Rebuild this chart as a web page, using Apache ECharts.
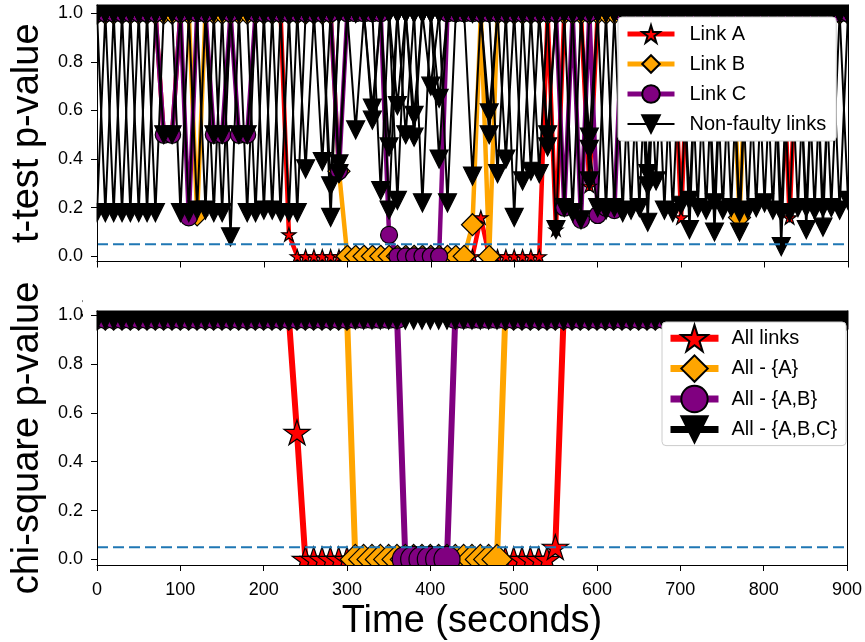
<!DOCTYPE html>
<html>
<head>
<meta charset="utf-8">
<title>p-values over time</title>
<script src="https://cdn.jsdelivr.net/npm/echarts@6/dist/echarts.min.js"></script>
<style>
  html, body { margin: 0; padding: 0; background: #fff; }
  #main { width: 865px; height: 642px; }
</style>
</head>
<body>
<div id="main"></div>
<script>
var times = [0,10,20,30,40,50,60,70,80,90,
  100,110,120,130,140,150,160,170,180,190,
  200,210,220,230,240,250,260,270,280,290,
  300,310,320,330,340,350,360,370,380,390,
  400,410,420,430,440,450,460,470,480,490,
  500,510,520,530,540,550,560,570,580,590,
  600,610,620,630,640,650,660,670,680,690,
  700,710,720,730,740,750,760,770,780,790,
  800,810,820,830,840,850,860,870,880,890,
  900];

// t-test p-values, faulty links
var linkA = [1,1,1,1,1,1,1,1,0.5,0.5,
  1,1,1,1,1,1,1,1,1,1,
  1,1,1,0.09,0,0,0,0,0,0,
  0,0,0,0,0,0,0,0,0,0,
  0,0,0,0,0,0,0.16,0,0,0,
  0,0,0,0,1,0.11,1,1,1,0.29,
  1,1,1,1,1,1,1,1,1,1,
  0.16,1,1,1,1,1,1,1,1,1,
  1,1,1,0.16,1,1,1,1,1,1,
  1];
var linkB = [1,1,1,1,1,1,1,1,1,1,
  1,1,0.17,1,1,1,1,1,1,1,
  1,1,1,1,1,1,1,1,1,0.35,
  0,0,0,0,0,0,0,0,0,0,
  0,0,0,0,0,0.13,1,0,1,1,
  1,1,1,1,1,1,1,1,1,1,
  1,1,1,1,1,1,1,1,1,1,
  1,1,1,1,1,1,1,0.16,1,1,
  1,1,1,1,1,1,1,1,1,1,
  1];
var linkC = [1,1,1,1,1,1,1,1,0.5,0.5,
  1,0.16,1,1,0.5,0.5,1,0.5,0.5,1,
  1,1,1,1,1,1,1,1,1,0.35,
  1,1,1,1,1,0.088,0,0,0,0,
  0,0,1,1,1,1,1,1,1,1,
  1,1,1,1,1,1,0.2,1,0.15,1,
  0.17,0.2,0.19,1,1,1,1,1,1,1,
  1,1,1,1,1,1,1,1,1,1,
  1,1,1,1,1,1,1,1,1,1,
  1];

// t-test p-values, non-faulty links
var nonFaulty1 = [0.18,1,0.18,1,0.18,1,0.18,1,1,1,
  0.18,1,0.19,1,0.18,1,1,1,0.18,1,
  0.19,1,0.18,1,0.18,1,1,1,0.16,1,
  1,1,1,0.61,1,1,0.62,1,1,0.22,
  1,1,1,1,1,0.33,1,1,1,1,
  0.16,1,1,1,0.45,1,1,1,1,0.49,
  1,0.19,1,0.18,1,0.2,1,0.31,1,0.18,
  1,1,0.2,1,0.22,1,1,0.18,1,0.2,
  1,1,0.18,1,0.2,1,1,0.2,1,0.19,
  1];
var nonFaulty2 = [1,0.18,1,0.18,1,0.18,1,0.18,1,1,
  1,0.18,1,0.19,1,0.18,1,1,1,0.18,
  1,0.19,1,0.18,1,1,1,1,1,0.34,
  1,1,1,0.56,1,1,0.23,1,1,1,
  0.7,1,1,1,1,1,1,0.59,1,1,
  1,0.31,1,1,1,0.11,1,1,1,0.44,
  0.2,1,0.2,1,0.19,1,1,1,0.19,1,
  0.21,1,1,0.19,1,1,0.2,1,0.19,1,
  1,0.19,1,0.18,1,1,0.19,1,0.2,1,
  1];
var nonFaulty3 = [1,1,1,1,1,1,1,1,0.5,0.5,
  1,1,1,1,0.5,0.5,1,0.5,0.5,1,
  1,1,1,1,1,0.36,1,1,1,0.38,
  1,1,1,1,0.27,1,1,0.5,1,1,
  1,0.4,1,1,1,1,1,0.5,1,1,
  1,1,0.35,1,1,1,0.2,1,1,0.31,
  1,1,1,1,1,1,0.34,1,1,1,
  1,0.23,1,1,1,0.19,1,1,1,1,
  0.22,1,1,1,1,0.2,1,1,1,1,
  0.23];
var nonFaulty4 = [1,1,1,1,1,1,1,1,1,1,
  1,1,1,1,1,1,0.08,1,1,1,
  1,1,1,1,1,1,1,0.39,1,1,
  1,0.52,1,1,1,0.45,1,1,0.58,1,
  1,0.65,1,1,1,1,1,1,0.34,1,
  1,1,1,0.34,1,1,1,0.18,1,1,
  1,1,1,1,1,1,0.29,1,1,1,
  1,0.11,1,1,1,1,1,0.1,1,1,
  1,1,1,1,1,0.11,1,1,1,1,
  1];
var nonFaulty5 = [1,1,1,1,1,1,1,1,1,1,
  1,1,1,1,1,1,1,1,1,1,
  1,1,1,1,1,1,1,1,0.29,1,
  1,1,1,1,1,0.19,1,1,0.49,1,
  1,1,0.22,1,1,1,1,1,1,0.4,
  1,1,1,1,0.5,1,1,1,0.15,1,
  1,1,1,1,1,1,0.14,1,1,1,
  1,1,1,1,0.1,1,1,1,1,1,
  1,1,0.04,1,1,1,1,0.12,1,1,
  1];

// chi-square p-values
var allLinks = [1,1,1,1,1,1,1,1,1,1,
  1,1,1,1,1,1,1,1,1,1,
  1,1,1,1,0.52,0,0,0,0,0,
  0,0,0,0,0,0,0,0,0,0,
  0,0,0,0,0,0,0,0,0,0,
  0,0,0,0,0,0.05,1,1,1,1,
  1,1,1,1,1,1,1,1,1,1,
  1,1,1,1,1,1,1,1,1,1,
  1,1,1,1,1,1,1,1,1,1,
  1];
var allMinusA = [1,1,1,1,1,1,1,1,1,1,
  1,1,1,1,1,1,1,1,1,1,
  1,1,1,1,1,1,1,1,1,1,
  1,0,0,0,0,0,0,0,0,0,
  0,0,0,0,0,0,0,0,0,1,
  1,1,1,1,1,1,1,1,1,1,
  1,1,1,1,1,1,1,1,1,1,
  1,1,1,1,1,1,1,1,1,1,
  1,1,1,1,1,1,1,1,1,1,
  1];
var allMinusAB = [1,1,1,1,1,1,1,1,1,1,
  1,1,1,1,1,1,1,1,1,1,
  1,1,1,1,1,1,1,1,1,1,
  1,1,1,1,1,1,1,0,0,0,
  0,0,0,1,1,1,1,1,1,1,
  1,1,1,1,1,1,1,1,1,1,
  1,1,1,1,1,1,1,1,1,1,
  1,1,1,1,1,1,1,1,1,1,
  1,1,1,1,1,1,1,1,1,1,
  1];
var allMinusABC = [1,1,1,1,1,1,1,1,1,1,
  1,1,1,1,1,1,1,1,1,1,
  1,1,1,1,1,1,1,1,1,1,
  1,1,1,1,1,1,1,1,1,1,
  1,1,1,1,1,1,1,1,1,1,
  1,1,1,1,1,1,1,1,1,1,
  1,1,1,1,1,1,1,1,1,1,
  1,1,1,1,1,1,1,1,1,1,
  1,1,1,1,1,1,1,1,1,1,
  1];

var yTicks = [0, 0.2, 0.4, 0.6, 0.8, 1.0];
var threshold = 0.05;

var FONT = 'Liberation Sans, Arial, Helvetica, sans-serif';
var STAR = 'path://M100,0L122.45,69.1L195.11,69.1L136.33,111.8L158.78,180.9L100,138.2L41.22,180.9L63.67,111.8L4.89,69.1L77.55,69.1Z';
var TRI_DOWN = 'path://M0,0L20,0L10,20Z';

var gridTop = {x: 97, y: 5, w: 751, h: 256.5};
var gridBottom = {x: 97, y: 311, w: 751, h: 254};

function toPoints(vals) {
  return times.map(function (t, i) { return [t, vals[i]]; });
}

function lineSeries(name, vals, gi, color, symbol, size, width) {
  return {
    name: name, type: 'line', xAxisIndex: gi, yAxisIndex: gi,
    data: toPoints(vals),
    symbol: symbol, symbolSize: size, symbolKeepAspect: true,
    lineStyle: {color: color, width: width},
    itemStyle: {color: color, borderColor: '#000', borderWidth: 1.2},
    emphasis: {disabled: true}, silent: true, z: 2
  };
}

function thresholdSeries(gi) {
  return {
    name: 'threshold' + gi, type: 'line', xAxisIndex: gi, yAxisIndex: gi,
    data: [[times[0], threshold], [times[times.length - 1], threshold]],
    symbol: 'none', silent: true, z: 3,
    lineStyle: {color: '#1f77b4', width: 2, type: [11, 5]}
  };
}

function xAxisFor(gi, pos, main) {
  return {
    type: 'value', gridIndex: gi, position: pos, min: 0, max: 900, interval: 100, z: 20,
    axisLine: {show: true, onZero: false, lineStyle: {color: '#000', width: 1}},
    axisTick: {show: main, length: 6, lineStyle: {color: '#000', width: 1}},
    axisLabel: {show: main && gi === 1, fontSize: 18, color: '#000', fontFamily: FONT, margin: 16},
    splitLine: {show: false}
  };
}

function yAxisFor(gi, pos, main, min, max, title) {
  var ax = {
    type: 'value', gridIndex: gi, position: pos, min: min, max: max, z: 20,
    axisLine: {show: true, onZero: false, lineStyle: {color: '#000', width: 1}},
    axisTick: {show: main, length: 6, customValues: yTicks, lineStyle: {color: '#000', width: 1}},
    axisLabel: {show: main, customValues: yTicks, fontSize: 18, color: '#000', fontFamily: FONT, margin: 14,
      formatter: function (v) { return v.toFixed(1); }},
    splitLine: {show: false}
  };
  if (title) {
    ax.name = title;
    ax.nameLocation = 'middle';
    ax.nameGap = 50;
    ax.nameTextStyle = {fontSize: 38, color: '#000', fontFamily: FONT};
  }
  return ax;
}

// white strips round each plot, so markers stop at the frame as in the original
function maskAround(g) {
  var s = {fill: '#fff'};
  return [
    {type: 'rect', silent: true, z: 10, shape: {x: g.x - 14, y: g.y - 16, width: g.w + 28, height: 15.5}, style: s},
    {type: 'rect', silent: true, z: 10, shape: {x: g.x - 14, y: g.y + g.h + 0.5, width: g.w + 28, height: 15}, style: s},
    {type: 'rect', silent: true, z: 10, shape: {x: g.x - 14, y: g.y - 16, width: 13.5, height: g.h + 32}, style: s},
    {type: 'rect', silent: true, z: 10, shape: {x: g.x + g.w + 0.5, y: g.y - 16, width: 16, height: g.h + 32}, style: s}
  ];
}

function legendItem(name, width) {
  return {name: name, lineStyle: {width: width}};
}

var legendBase = {
  orient: 'vertical', selectedMode: false, backgroundColor: '#fff',
  borderColor: '#cccccc', borderWidth: 1, borderRadius: 4
};

var option = {
  animation: false,
  backgroundColor: '#fff',
  grid: [
    {left: gridTop.x, top: gridTop.y, width: gridTop.w, height: gridTop.h},
    {left: gridBottom.x, top: gridBottom.y, width: gridBottom.w, height: gridBottom.h}
  ],
  xAxis: [
    xAxisFor(0, 'bottom', true),
    Object.assign(xAxisFor(1, 'bottom', true), {
      name: 'Time (seconds)', nameLocation: 'middle', nameGap: 38,
      nameTextStyle: {fontSize: 38, color: '#000', fontFamily: FONT}
    }),
    xAxisFor(0, 'top', false),
    xAxisFor(1, 'top', false)
  ],
  yAxis: [
    yAxisFor(0, 'left', true, -0.0214, 1.034, 't-test p-value'),
    yAxisFor(1, 'left', true, -0.023, 1.017, 'chi-square p-value'),
    yAxisFor(0, 'right', false, -0.0214, 1.034),
    yAxisFor(1, 'right', false, -0.023, 1.017)
  ],
  legend: [
    Object.assign({}, legendBase, {
      data: [legendItem('Link A', 5), legendItem('Link B', 5), legendItem('Link C', 5),
        legendItem('Non-faulty links', 2)],
      left: 618, top: 17, itemWidth: 47, itemHeight: 22, itemGap: 10,
      padding: [7, 10, 7, 7],
      textStyle: {fontSize: 20, color: '#000', fontFamily: FONT, padding: [0, 0, 0, 10]}
    }),
    Object.assign({}, legendBase, {
      data: [legendItem('All links', 7), legendItem('All - {A}', 7), legendItem('All - {A,B}', 7),
        legendItem('All - {A,B,C}', 7)],
      left: 662, top: 322, itemWidth: 48, itemHeight: 33, itemGap: 2,
      padding: [2, 9, 2, 5],
      textStyle: {fontSize: 20, color: '#000', fontFamily: FONT, padding: [0, 0, 0, 8]}
    })
  ],
  graphic: maskAround(gridTop).concat(maskAround(gridBottom)),
  series: [
    lineSeries('Link A', linkA, 0, '#ff0000', STAR, 14, 4.5),
    lineSeries('Link B', linkB, 0, '#ffa500', 'diamond', 22, 4.5),
    lineSeries('Link C', linkC, 0, '#800080', 'circle', 17, 4.5),
    lineSeries('Non-faulty links', nonFaulty1, 0, '#000', TRI_DOWN, 18, 2),
    lineSeries('Non-faulty links', nonFaulty2, 0, '#000', TRI_DOWN, 18, 2),
    lineSeries('Non-faulty links', nonFaulty3, 0, '#000', TRI_DOWN, 18, 2),
    lineSeries('Non-faulty links', nonFaulty4, 0, '#000', TRI_DOWN, 18, 2),
    lineSeries('Non-faulty links', nonFaulty5, 0, '#000', TRI_DOWN, 18, 2),
    thresholdSeries(0),
    lineSeries('All links', allLinks, 1, '#ff0000', STAR, 26, 6),
    lineSeries('All - {A}', allMinusA, 1, '#ffa500', 'diamond', 30, 6),
    lineSeries('All - {A,B}', allMinusAB, 1, '#800080', 'circle', 26, 6),
    lineSeries('All - {A,B,C}', allMinusABC, 1, '#000', TRI_DOWN, 28, 6),
    thresholdSeries(1)
  ]
};

var myChart = echarts.init(document.getElementById('main'), null, {renderer: 'canvas'});
myChart.setOption(option);
</script>
</body>
</html>
